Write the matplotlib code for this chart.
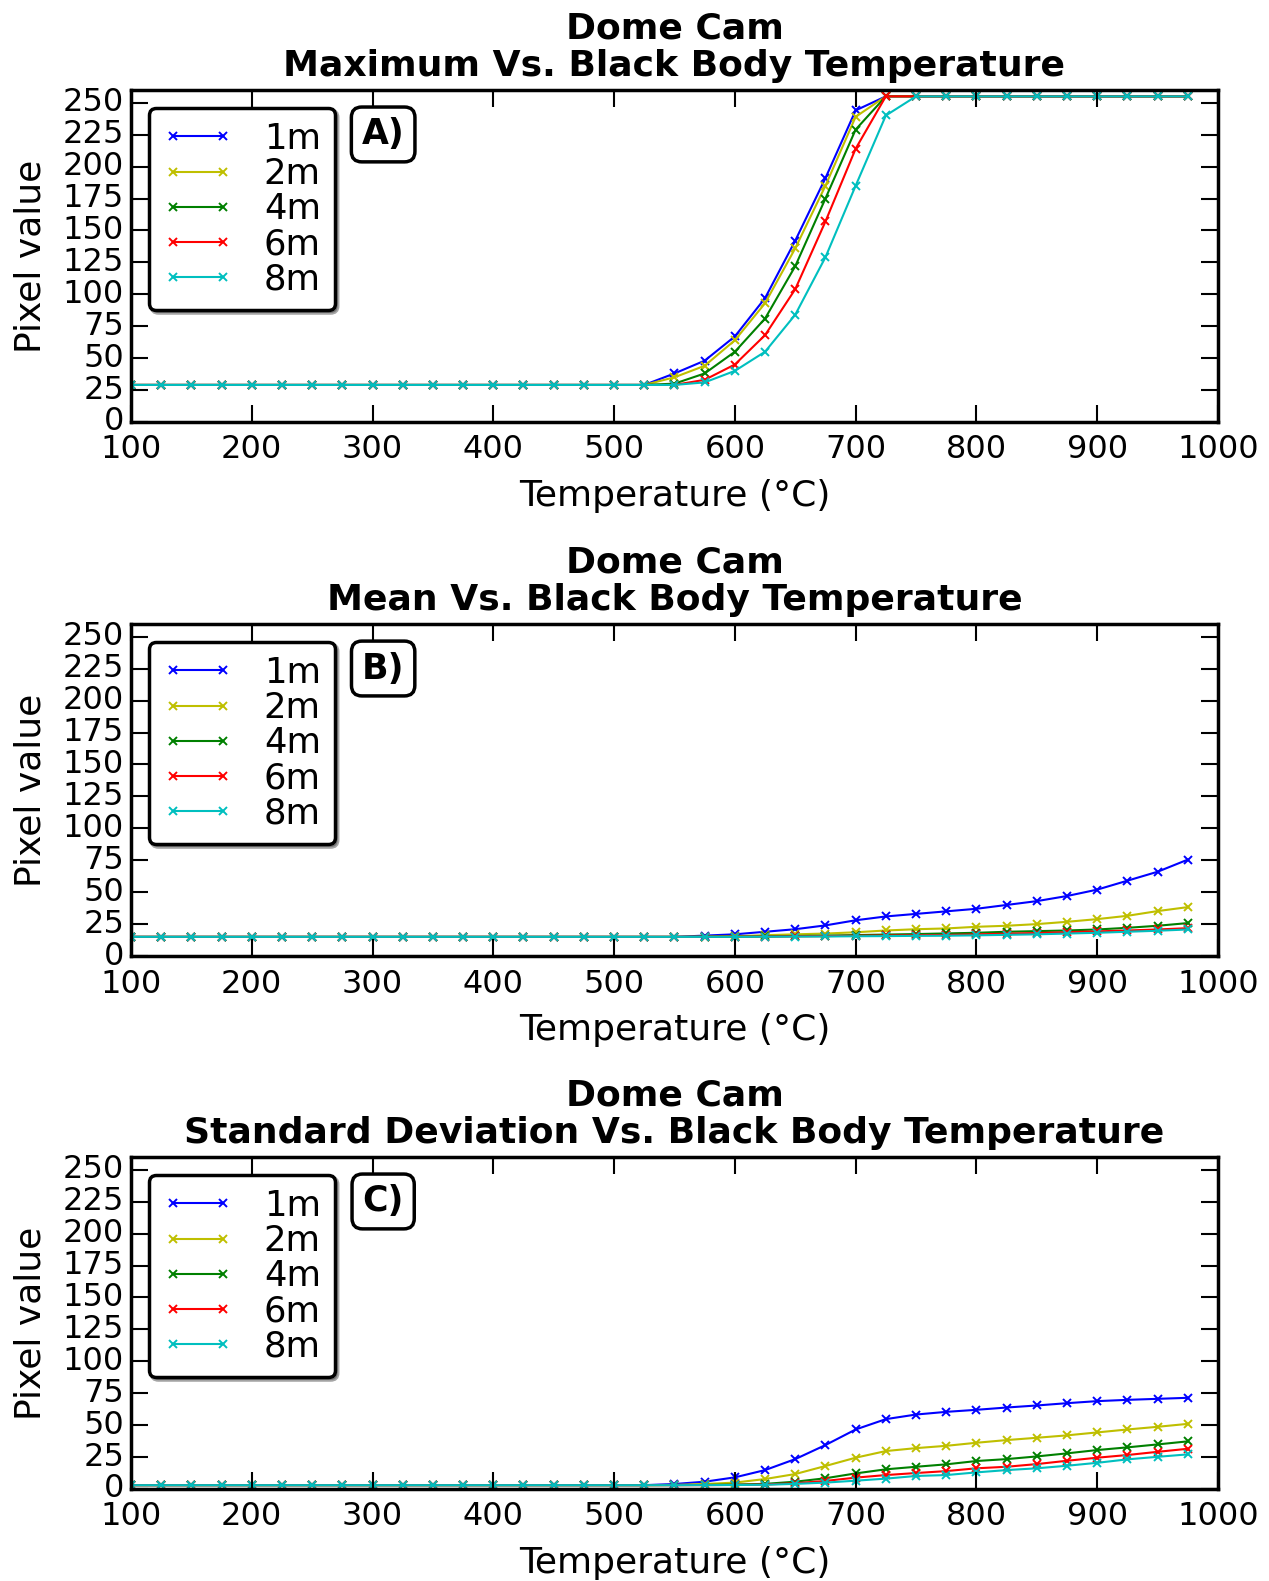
import numpy as np
import matplotlib.pyplot as plt

# Black body temperature steps (deg C)
temps = np.arange(100, 1000, 25)
distances = ["1m", "2m", "4m", "6m", "8m"]
colors = ["b", "y", "g", "r", "c"]

# Maximum pixel value, 100..500 flat at ~29, saturates at 255
low = [29] * 17  # 100 .. 500
sat = [255] * 10  # 750 .. 975
max_1m = low + [29, 38, 48, 67, 97, 142, 191, 244, 255] + sat
max_2m = low + [29, 35, 44, 64, 93, 136, 185, 239, 255] + sat
max_4m = low + [29, 30, 38, 55, 81, 122, 175, 229, 255] + sat
max_6m = low + [29, 29, 33, 45, 68, 104, 157, 214, 255] + sat
max_8m = low + [29, 29, 31, 40, 55, 84, 129, 185, 240] + sat

# Mean pixel value
flat = [15] * 19  # 100 .. 550
mean_1m = flat + [16, 17, 19, 21, 24, 28, 31, 33, 35, 37, 40, 43, 47, 52, 59, 66, 75.5]
mean_2m = flat + [15.2, 15.5, 16.3, 17, 17.6, 18.6, 20, 21, 21.6, 22.9, 23.7, 25, 26.8, 28.9, 31.5, 35.2, 38.3]
mean_4m = flat + [15.1, 15.2, 15.4, 15.7, 16, 16.4, 16.8, 17.2, 17.7, 18.2, 19, 19.5, 20, 20.8, 22.1, 23.7, 25.8]
mean_6m = flat + [15, 15.1, 15.2, 15.4, 15.6, 15.9, 16.1, 16.3, 16.5, 17, 17.5, 18, 18.7, 19.3, 20, 20.8, 21.8]
mean_8m = flat + [15, 15, 15.1, 15.2, 15.3, 15.5, 15.6, 15.8, 15.9, 16.2, 16.6, 17, 17.6, 18.2, 19, 19.8, 20.8]

# Standard deviation of pixel values
base = [3] * 18  # 100 .. 525
std_1m = base + [3.9, 5.7, 9.1, 14.8, 23.4, 34.4, 46.6, 54.7, 58.3, 60.4, 62, 63.8, 65.4, 67.2, 68.8, 69.8, 70.6, 71.4]
std_2m = base + [3.2, 3.9, 5, 7.8, 11.7, 18, 24.5, 29.7, 32, 33.8, 36.2, 38.3, 40.1, 42, 44.3, 46.6, 48.7, 51]
std_4m = base + [3, 3.2, 3.5, 4, 5.7, 8.4, 12.2, 15.4, 17.4, 19.3, 21.9, 23.4, 25.5, 27.9, 30.5, 32.6, 34.9, 37.3]
std_6m = base + [3, 3, 3.2, 3.5, 4.5, 6.3, 8.9, 10.9, 12.5, 14, 16.2, 17.4, 19.5, 22.1, 24.5, 26.6, 29.1, 31.5]
std_8m = base + [3, 3, 3.1, 3.3, 4, 5, 6.5, 8.1, 10.2, 10.9, 13, 14.8, 16.2, 18.2, 20.5, 23.2, 25.2, 27.1]

panels = [
    ("Maximum", "A)", [max_1m, max_2m, max_4m, max_6m, max_8m]),
    ("Mean", "B)", [mean_1m, mean_2m, mean_4m, mean_6m, mean_8m]),
    ("Standard Deviation", "C)", [std_1m, std_2m, std_4m, std_6m, std_8m]),
]

plt.style.use("classic")
plt.rcParams["font.family"] = "DejaVu Sans"

fig = plt.figure(figsize=(12.69, 15.81), dpi=100, facecolor="white")

left, width, height = 0.1032, 0.8566, 0.2100
bottoms = [0.7331, 0.3953, 0.0582]

for (stat, tag, series), bottom in zip(panels, bottoms):
    ax = fig.add_axes([left, bottom, width, height])
    for vals, lab, col in zip(series, distances, colors):
        ax.plot(temps, vals, color=col, marker="x", markersize=6, mew=1.4,
                lw=1.5, label=lab)
    ax.set_xlim(100, 1000)
    ax.set_ylim(0, 260)
    ax.set_xticks(np.arange(100, 1001, 100))
    ax.set_yticks(np.arange(0, 251, 25))
    ax.tick_params(labelsize=23, length=12, width=1.5, direction="in",
                   top=True, right=True)
    ax.tick_params(axis="x", pad=9)
    ax.tick_params(axis="y", pad=5)
    for sp in ax.spines.values():
        sp.set_linewidth(2.5)
    ax.set_title("Dome Cam\n%s Vs. Black Body Temperature" % stat,
                 fontsize=26, fontweight="bold", pad=10, linespacing=1.15)
    ax.set_xlabel("Temperature (\u00b0C)", fontsize=26, labelpad=10)
    ax.set_ylabel("Pixel value", fontsize=26, labelpad=11)
    leg = ax.legend(loc="upper left", fontsize=25.5, numpoints=2, fancybox=True,
                    shadow=True, handlelength=2.0, handletextpad=0.85,
                    labelspacing=0.03, borderpad=0.4, borderaxespad=0.5)
    leg.get_frame().set_linewidth(2.5)
    ax.text(0.232, 0.866, tag, transform=ax.transAxes, fontsize=25,
            fontweight="bold", ha="center", va="center",
            bbox=dict(boxstyle="round,pad=0.3", fc="white", ec="k", lw=2.5))

fig.savefig("out.png", dpi=100, facecolor="white")
